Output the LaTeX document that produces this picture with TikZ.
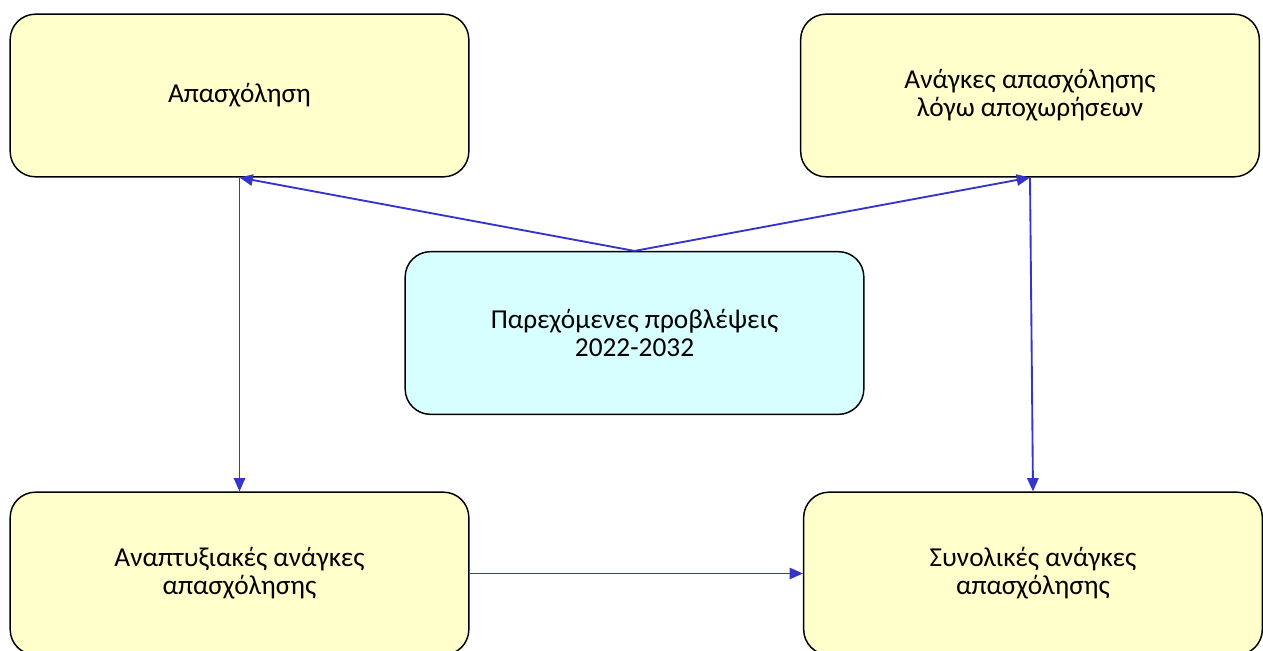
\documentclass[tikz,border=0pt]{standalone}
\usepackage{fontspec}
\setmainfont{Carlito}
\usetikzlibrary{arrows.meta}
\definecolor{boxyellow}{HTML}{FFFFCC}
\definecolor{boxcyan}{HTML}{D7FFFF}
\definecolor{arrowblue}{HTML}{3535CC}
\tikzset{
  panel/.style={draw=black, line width=1.1pt, rounded corners=19pt, fill=boxyellow,
    minimum width=344pt, minimum height=122pt, align=center, inner sep=0pt,
    font=\fontsize{20.5}{21}\selectfont},
  link/.style={draw=arrowblue, line width=1.4pt, -{Triangle[length=10pt,width=8.5pt]}}
}
\begin{document}
\begin{tikzpicture}[x=0.75pt, y=-0.75pt, line join=round]
  \useasboundingbox (0,0) rectangle (1263,650);
  \node[panel] (empl) at (239.5,95.5) {Απασχόληση};
  \node[panel] (retire) at (1030,95.5) {Ανάγκες απασχόλησης\\λόγω αποχωρήσεων};
  \node[panel, fill=boxcyan] (fcast) at (634.5,333) {Παρεχόμενες προβλέψεις\\2022-2032};
  \node[panel] (growth) at (239.5,573.5) {Αναπτυξιακές ανάγκες\\απασχόλησης};
  \node[panel] (total) at (1033,573.5) {Συνολικές ανάγκες\\απασχόλησης};
  \draw[link] (fcast.north) -- (empl.south);
  \draw[link] (fcast.north) -- (retire.south);
  \draw[link] (empl.south) -- (growth.north);
  \draw[link] (retire.south) -- (total.north);
  \draw[link] (growth.east) -- (total.west);
\end{tikzpicture}
\end{document}
